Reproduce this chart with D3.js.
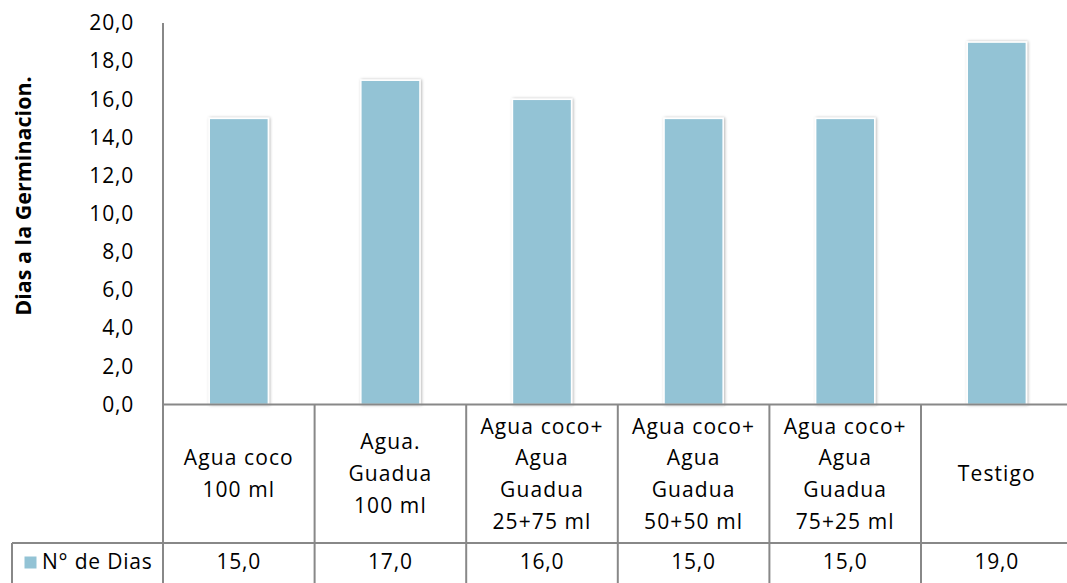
<!DOCTYPE html>
<html>
<head>
<meta charset="utf-8">
<script src="https://cdn.jsdelivr.net/npm/d3@7"></script>
<style>
  html, body { margin: 0; padding: 0; background: #fff; }
  svg { display: block; }
  text { font-family: "Open Sans", sans-serif; fill: #000; }
</style>
</head>
<body>
<svg id="chart" width="1067" height="583"></svg>
<script>
// Treatments (one line of the table header per entry)
const categories = [
  ["Agua coco", "100 ml"],
  ["Agua.", "Guadua", "100 ml"],
  ["Agua coco+", "Agua", "Guadua", "25+75 ml"],
  ["Agua coco+", "Agua", "Guadua", "50+50 ml"],
  ["Agua coco+", "Agua", "Guadua", "75+25 ml"],
  ["Testigo"]
];
const seriesName = "N° de Dias";
const diasValues = [15, 17, 16, 15, 15, 19];
const yTicks = [0, 2, 4, 6, 8, 10, 12, 14, 16, 18, 20];
const yTitle = "Dias a la Germinacion.";

const fmt = v => v.toFixed(1).replace(".", ",");

const svg = d3.select("#chart");
const plotLeft = 163, plotRight = 1072.6, plotTop = 23, base = 404.5;
const headBottom = 543, tableBottom = 600, legendLeft = 12;
const barColor = "#93C3D5";
const lineColor = "#888888";

const x = d3.scaleBand().domain(d3.range(categories.length)).range([plotLeft, plotRight]).padding(0);
const y = d3.scaleLinear().domain([0, 20]).range([base, plotTop]);

// soft shadow behind the bars
const defs = svg.append("defs");
const f = defs.append("filter").attr("id", "shadow")
  .attr("x", "-20%").attr("y", "-5%").attr("width", "140%").attr("height", "110%");
f.append("feDropShadow").attr("dx", 1).attr("dy", 0).attr("stdDeviation", 1.8)
  .attr("flood-color", "#000").attr("flood-opacity", 0.3);

// bars
const barW = x.bandwidth() * 0.39;
svg.append("g").selectAll("rect").data(diasValues).join("rect")
  .attr("x", (d, i) => x(i) + (x.bandwidth() - barW) / 2)
  .attr("y", d => y(d))
  .attr("width", barW)
  .attr("height", d => base - y(d))
  .attr("fill", barColor)
  .attr("stroke", "#fff")
  .attr("stroke-width", 1.5)
  .attr("filter", "url(#shadow)");

// y axis
const yAxis = d3.axisLeft(y).tickValues(yTicks).tickSize(0).tickPadding(29).tickFormat(fmt);
const gy = svg.append("g").attr("transform", `translate(${plotLeft},0)`).call(yAxis);
gy.select(".domain").remove();
gy.selectAll("text").attr("font-size", 21).attr("font-family", "Open Sans, sans-serif")
  .attr("letter-spacing", 0.8).attr("fill", "#000");

// y axis title
svg.append("text")
  .attr("transform", "translate(31,196) rotate(-90)")
  .attr("text-anchor", "middle")
  .attr("font-size", 21.5).attr("font-weight", "bold")
  .text(yTitle);

// table grid
const grid = svg.append("g").attr("stroke", lineColor).attr("stroke-width", 2).attr("fill", "none");
grid.append("line").attr("x1", plotLeft).attr("x2", plotLeft).attr("y1", plotTop).attr("y2", tableBottom);
grid.append("line").attr("x1", plotLeft).attr("x2", plotRight).attr("y1", base).attr("y2", base);
grid.append("line").attr("x1", legendLeft).attr("x2", plotRight).attr("y1", headBottom).attr("y2", headBottom);
grid.append("line").attr("x1", legendLeft).attr("x2", legendLeft).attr("y1", headBottom).attr("y2", tableBottom);
grid.selectAll(".sep").data(d3.range(1, categories.length + 1)).join("line")
  .attr("x1", i => x.step() * i + plotLeft).attr("x2", i => x.step() * i + plotLeft)
  .attr("y1", base).attr("y2", tableBottom);

// header cells (category names)
const lineH = 31.7;
const headMid = (base + headBottom) / 2;
const heads = svg.append("g").selectAll("text").data(categories).join("text")
  .attr("text-anchor", "middle")
  .attr("font-size", 21).attr("letter-spacing", 1.1)
  .attr("x", (d, i) => x(i) + x.bandwidth() / 2)
  .attr("y", d => headMid - (d.length - 1) * lineH / 2);
heads.selectAll("tspan").data(d => d).join("tspan")
  .attr("x", function () { return d3.select(this.parentNode).attr("x"); })
  .attr("dy", (d, i) => i === 0 ? "0.35em" : lineH)
  .text(d => d);

// value row
const rowMid = 562;
svg.append("g").selectAll("text").data(diasValues).join("text")
  .attr("text-anchor", "middle")
  .attr("font-size", 21).attr("letter-spacing", 0.8)
  .attr("x", (d, i) => x(i) + x.bandwidth() / 2)
  .attr("y", rowMid).attr("dy", "0.35em")
  .text(fmt);

// legend key in the row header
svg.append("rect").attr("x", 24.5).attr("y", 556.5).attr("width", 12).attr("height", 12).attr("fill", barColor);
svg.append("text").attr("x", 42).attr("y", rowMid).attr("dy", "0.35em")
  .attr("font-size", 21).attr("letter-spacing", 0.8)
  .text(seriesName);
</script>
</body>
</html>
